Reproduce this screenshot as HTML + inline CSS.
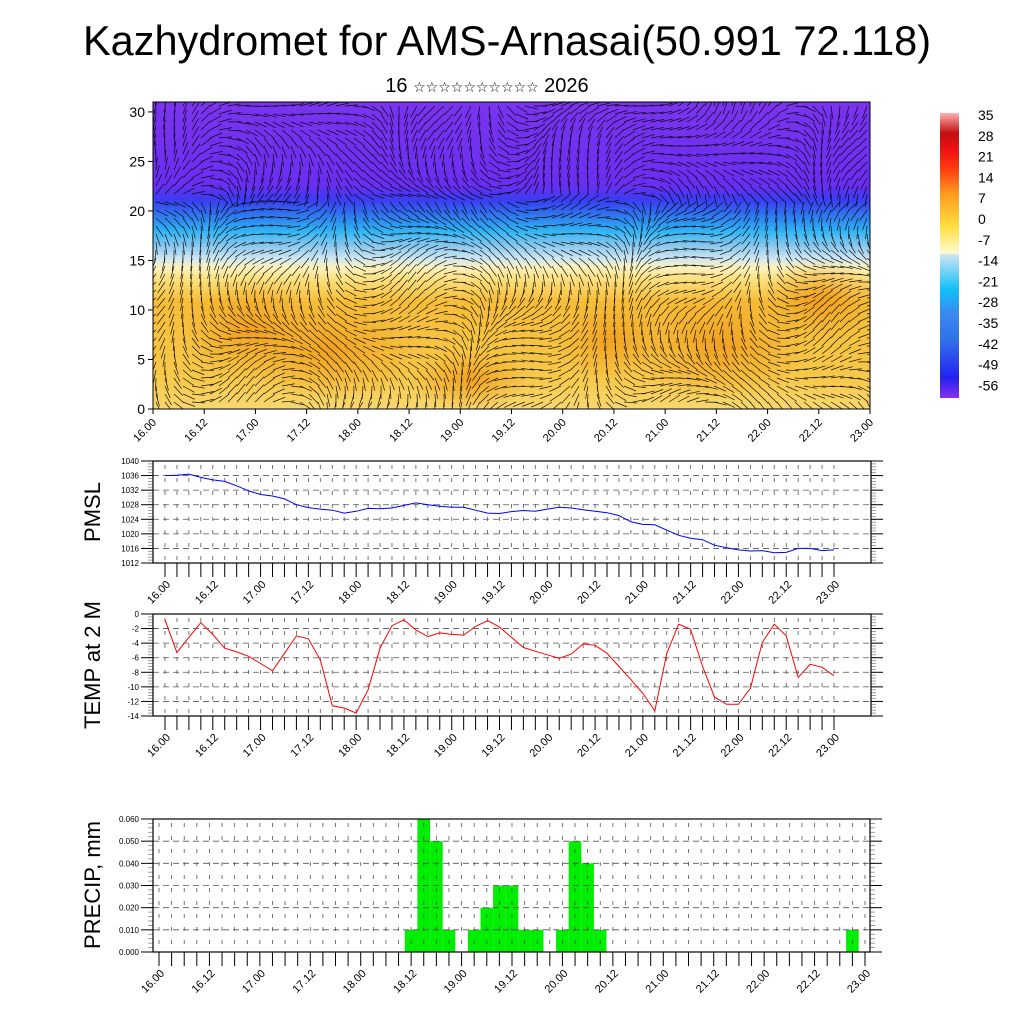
<!DOCTYPE html>
<html><head><meta charset="utf-8">
<style>
html,body{margin:0;padding:0;background:#fff;}
body{width:1024px;height:1024px;overflow:hidden;font-family:"Liberation Sans","DejaVu Sans",sans-serif;}
svg text{font-family:"Liberation Sans","DejaVu Sans",sans-serif;}
</style></head>
<body>
<svg id="root" width="1024" height="1024" viewBox="0 0 1024 1024" xmlns="http://www.w3.org/2000/svg">
<defs>
<linearGradient id="fieldGrad" x1="0" y1="1" x2="0" y2="0">
<stop offset="0" stop-color="#f8d870"/>
<stop offset="0.1" stop-color="#f7c84a"/>
<stop offset="0.35" stop-color="#f6bd38"/>
<stop offset="0.42" stop-color="#fbdf7c"/>
<stop offset="0.46" stop-color="#fdf2bc"/>
<stop offset="0.49" stop-color="#cfe6f2"/>
<stop offset="0.53" stop-color="#8cc8ee"/>
<stop offset="0.58" stop-color="#2fb4f4"/>
<stop offset="0.63" stop-color="#2f78ee"/>
<stop offset="0.68" stop-color="#3a3cf0"/>
<stop offset="0.73" stop-color="#6a2ef0"/>
<stop offset="1" stop-color="#7a34ee"/>
</linearGradient>
<radialGradient id="blob"><stop offset="0" stop-color="#f09a18" stop-opacity="0.85"/><stop offset="1" stop-color="#f0a020" stop-opacity="0"/></radialGradient>
<linearGradient id="cbGrad" x1="0" y1="1" x2="0" y2="0">
<stop offset="0" stop-color="#8a30ee"/>
<stop offset="0.07" stop-color="#2222f0"/>
<stop offset="0.2" stop-color="#3070e8"/>
<stop offset="0.3" stop-color="#3a8af0"/>
<stop offset="0.38" stop-color="#10c0f8"/>
<stop offset="0.5" stop-color="#c8e4f4"/>
<stop offset="0.51" stop-color="#fffad0"/>
<stop offset="0.6" stop-color="#ffe040"/>
<stop offset="0.72" stop-color="#ff9820"/>
<stop offset="0.8" stop-color="#ff4010"/>
<stop offset="0.87" stop-color="#f01010"/>
<stop offset="0.93" stop-color="#c01010"/>
<stop offset="1" stop-color="#ffb0b0"/>
</linearGradient>
<clipPath id="topClip"><rect x="153" y="102" width="717" height="307"/></clipPath>
</defs>

<text x="507" y="55" font-size="41.5" text-anchor="middle">Kazhydromet for AMS-Arnasai(50.991 72.118)</text>
<text x="487" y="92" font-size="20" text-anchor="middle">16 <tspan font-size="14">☆☆☆☆☆☆☆☆☆☆</tspan> 2026</text>

<g id="topPanel"></g>
<g id="colorbar"></g>
<g id="pmsl"></g>
<g id="temp"></g>
<g id="precip"></g>
</svg>
<script>
const xLabels = ["16.00","16.12","17.00","17.12","18.00","18.12","19.00","19.12","20.00","20.12","21.00","21.12","22.00","22.12","23.00"];
const pmslValues = [1036,1036.1,1036.4,1035.5,1034.8,1034.4,1033.2,1031.8,1030.8,1030.4,1029.6,1028,1027.2,1026.8,1026.5,1025.7,1026.2,1027,1026.9,1027.1,1027.8,1028.5,1028,1027.6,1027.3,1027.3,1026.5,1025.7,1025.6,1026.1,1026.4,1026.2,1026.8,1027.3,1027.1,1026.6,1026.2,1025.8,1025,1023.3,1022.6,1022.5,1021,1019.6,1018.8,1018.4,1016.9,1016.2,1015.6,1015.3,1015.4,1014.8,1014.9,1016,1016,1015.4,1015.6];
const pmslTicks = [1012,1016,1020,1024,1028,1032,1036,1040];
const tempValues = [-0.8,-5.3,-3.2,-1.2,-2.8,-4.7,-5.2,-5.8,-6.8,-7.8,-5.4,-3.0,-3.4,-6.3,-12.6,-12.9,-13.6,-10.4,-4.7,-1.6,-0.8,-2.2,-3.1,-2.6,-2.8,-2.9,-1.7,-0.9,-1.8,-3.2,-4.6,-5.1,-5.6,-6.1,-5.5,-4.1,-4.3,-5.4,-7.2,-9.0,-10.9,-13.3,-5.4,-1.4,-2.1,-7.2,-11.4,-12.4,-12.4,-10.2,-3.9,-1.4,-3.0,-8.7,-6.9,-7.3,-8.5];
const tempTicks = [-14,-12,-10,-8,-6,-4,-2,0];
const precipValues = [0,0,0,0,0,0,0,0,0,0,0,0,0,0,0,0,0,0,0,0,0.01,0.06,0.05,0.01,0,0.01,0.02,0.03,0.03,0.01,0.01,0,0.01,0.05,0.04,0.01,0,0,0,0,0,0,0,0,0,0,0,0,0,0,0,0,0,0,0,0.01,0];
const precipTicks = [0,0.01,0.02,0.03,0.04,0.05,0.06];
const topYTicks = [0,5,10,15,20,25,30];
const cbLabels = [35,28,21,14,7,0,-7,-14,-21,-28,-35,-42,-49,-56];

const NS="http://www.w3.org/2000/svg";
function mk(parent,tag,attrs,txt){const e=document.createElementNS(NS,tag);for(const k in attrs)e.setAttribute(k,attrs[k]);if(txt!==undefined)e.textContent=txt;parent.appendChild(e);return e;}

(function(){
  const g=document.getElementById('topPanel');
  const L=153,R=870,T=102,B=409;
  const yv=v=>B-(v/31)*(B-T);
  const bg=mk(g,'rect',{x:L,y:T,width:R-L,height:B-T,fill:'url(#fieldGrad)'});
  
  
  const cg=mk(g,'g',{'clip-path':'url(#topClip)'});
  [[330,350,90,50],[250,330,70,50],[470,380,60,30],[720,345,90,55],[820,300,60,40],[610,340,60,40]].forEach(b=>{
    mk(cg,'ellipse',{cx:b[0],cy:b[1],rx:b[2],ry:b[3],fill:'url(#blob)'});
  });
  const wg=mk(cg,'g',{stroke:'#000','stroke-width':'0.7','stroke-opacity':'0.9'});
  
  
  for(let y=T+4;y<B;y+=8){for(let x=L+3;x<R;x+=9){
    const a=Math.sin(x*0.013+y*0.02)*1.3+Math.cos(x*0.031-y*0.011)*0.8+(y<200?0.3:1.2);
    const len=13;
    mk(wg,'line',{x1:x,y1:y,x2:x+len*Math.cos(a),y2:y+len*Math.sin(a)});
  }}
  mk(g,'rect',{x:L,y:T,width:R-L,height:B-T,fill:'none',stroke:'#000','stroke-width':'1'});
  topYTicks.forEach(v=>{
    const y=yv(v);
    mk(g,'line',{x1:L-5,y1:y,x2:L,y2:y,stroke:'#000'});
    const t=mk(g,'text',{x:L-8,y:y+5,'font-size':'14','text-anchor':'end'},String(v));
    
    
  });
  xLabels.forEach((s,i)=>{
    const x=L+i*(R-L)/14;
    mk(g,'line',{x1:x,y1:B,x2:x,y2:B+5,stroke:'#000'});
    const t=mk(g,'text',{x:0,y:0,'font-size':'11','text-anchor':'end',transform:`translate(${x+4},${B+14}) rotate(-45)`},s);
    
    
  });
})();

(function(){
  const g=document.getElementById('colorbar');
  mk(g,'rect',{x:940,y:113,width:19,height:285,fill:'url(#cbGrad)'});
  cbLabels.forEach((v,i)=>{
    const t=mk(g,'text',{x:978,y:120+i*20.8,'font-size':'14'},String(v));
    
    
  });
})();

function panel(id,cfg){
  const g=document.getElementById(id);
  const {L,R,T,B,x0,x1,ymin,ymax,ticks,fmt,title,titleY}=cfg;
  const n=57;
  const xs=i=>x0+i*(x1-x0)/(n-1);
  const ys=v=>B-(v-ymin)/(ymax-ymin)*(B-T);
  const gg=mk(g,'g',{stroke:'#555','stroke-width':'0.8'});
  for(let i=0;i<n;i++){mk(gg,'line',{x1:xs(i),y1:T+4,x2:xs(i),y2:B,'stroke-dasharray':'4,9'});}
  ticks.forEach(v=>{ if(v!==ymin&&v!==ymax) mk(gg,'line',{x1:L,y1:ys(v),x2:R,y2:ys(v),'stroke-dasharray':'6,4'});});
  const step=(ticks[1]-ticks[0])/5;
  for(let v=ymin;v<=ymax+1e-9;v+=step){
    const y=ys(v);
    mk(g,'line',{x1:L-5,y1:y,x2:L,y2:y,stroke:'#888','stroke-width':'0.8'});
    mk(g,'line',{x1:R,y1:y,x2:R+5,y2:y,stroke:'#888','stroke-width':'0.8'});
  }
  ticks.forEach(v=>{
    const y=ys(v);
    mk(g,'line',{x1:L-12,y1:y,x2:L,y2:y,stroke:'#000'});
    mk(g,'line',{x1:R,y1:y,x2:R+12,y2:y,stroke:'#000'});
    const t=mk(g,'text',{x:L-14,y:y+3,'font-size':'8','text-anchor':'end'},fmt(v));
    
    
  });
  for(let i=0;i<n;i++){mk(g,'line',{x1:xs(i),y1:B,x2:xs(i),y2:B+14,stroke:'#000','stroke-width':'1'});}
  xLabels.forEach((s,i)=>{
    const x=xs(i*4);
    const t=mk(g,'text',{x:0,y:0,'font-size':'11','text-anchor':'end',transform:`translate(${x+6},${B+22}) rotate(-45)`},s);
    
    
  });
  const tt=mk(g,'text',{x:0,y:0,'font-size':'22','text-anchor':'middle',transform:`translate(100,${titleY}) rotate(-90)`},title);
  
  
  return {g,xs,ys,L,R,T,B,n,x0,x1};
}
function frame(p){mk(p.g,'rect',{x:p.L,y:p.T,width:p.R-p.L,height:p.B-p.T,fill:'none',stroke:'#000','stroke-width':'1.2'});}

(function(){
  const p=panel('pmsl',{L:153,R:871,T:461,B:563,x0:165,x1:834,ymin:1012,ymax:1040,ticks:pmslTicks,fmt:v=>String(v),title:'PMSL',titleY:512});
  const d=pmslValues.map((v,i)=>(i?'L':'M')+p.xs(i).toFixed(1)+','+p.ys(v).toFixed(1)).join('');
  const l=mk(p.g,'path',{d,fill:'none',stroke:'#0000ff','stroke-width':'1'});
  
  
  frame(p);
})();
(function(){
  const p=panel('temp',{L:153,R:871,T:614,B:716,x0:165,x1:834,ymin:-14,ymax:0,ticks:tempTicks,fmt:v=>String(v),title:'TEMP at 2 M',titleY:665});
  const d=tempValues.map((v,i)=>(i?'L':'M')+p.xs(i).toFixed(1)+','+p.ys(v).toFixed(1)).join('');
  const l=mk(p.g,'path',{d,fill:'none',stroke:'#ff0000','stroke-width':'1'});
  
  
  frame(p);
})();
(function(){
  const p=panel('precip',{L:153,R:870,T:819,B:952,x0:159,x1:865,ymin:0,ymax:0.06,ticks:precipTicks,fmt:v=>v.toFixed(3),title:'PRECIP, mm',titleY:885});
  const w=(p.x1-p.x0)/56;
  const bg=mk(p.g,'g',{});
  precipValues.forEach((v,i)=>{
    if(v<=0)return;
    const x=p.xs(i)-w/2,y=p.ys(v);
    const b=mk(bg,'rect',{x:x.toFixed(1),y:y.toFixed(1),width:w.toFixed(1),height:(p.B-y).toFixed(1),fill:'#00ee00'});
    
    
  });
  p.g.insertBefore(bg,p.g.firstChild);
  frame(p);
})();
</script>
</body></html>
